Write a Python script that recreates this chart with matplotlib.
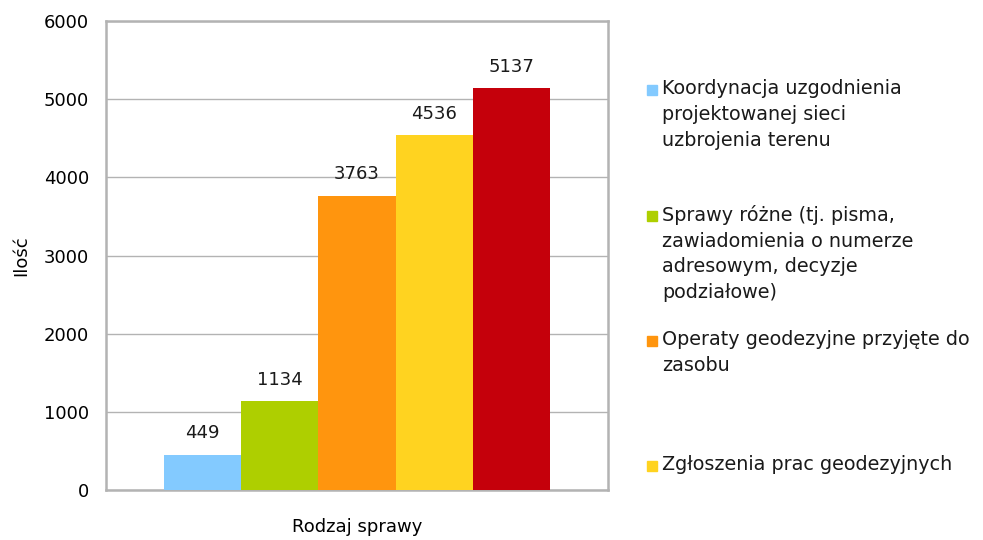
import matplotlib
matplotlib.use("Agg")
import matplotlib.pyplot as plt
from matplotlib.patches import Rectangle

plt.rcParams['font.family'] = ['DejaVu Sans']

categories = [
    "Koordynacja uzgodnienia\nprojektowanej sieci\nuzbrojenia terenu",
    "Sprawy różne (tj. pisma,\nzawiadomienia o numerze\nadresowym, decyzje\npodziałowe)",
    "Operaty geodezyjne przyjęte do\nzasobu",
    "Zgłoszenia prac geodezyjnych",
]
values = [449, 1134, 3763, 4536, 5137]
colors = ["#83caff", "#aecf00", "#ff950e", "#ffd320", "#c5000b"]
yticks = [0, 1000, 2000, 3000, 4000, 5000, 6000]

fig = plt.figure(figsize=(9.83, 5.40), dpi=100)
ax = fig.add_axes([0.1078, 0.0926, 0.5107, 0.8685])

x = list(range(len(values)))
bars = ax.bar(x, values, width=1.0, color=colors, zorder=3)
for xi, v in zip(x, values):
    ax.annotate(str(v), (xi, v), xytext=(0, 9), textcoords='offset points',
                ha='center', va='bottom', fontsize=13, color='#1a1a1a')

ax.set_xlim(-0.5 - 0.753, 4.5 + 0.753)
ax.set_ylim(0, 6000)
ax.set_yticks(yticks)
ax.set_yticklabels([str(t) for t in yticks], fontsize=13)
ax.set_xticks([])
ax.tick_params(axis='y', length=0, pad=12)
ax.yaxis.grid(True, color='#b3b3b3', linewidth=1.0, zorder=0)
for s in ax.spines.values():
    s.set_color('#b3b3b3')
    s.set_linewidth(1.8)
ax.set_ylabel("Ilość", fontsize=13, labelpad=10)
ax.set_xlabel("Rodzaj sprawy", fontsize=13, labelpad=20)

# legend (manual, last entry falls outside the figure)
leg_y = [90, 216, 341, 466]
for lab, col, yy in zip(categories, colors, leg_y):
    yf = 1 - yy / 540
    fig.add_artist(Rectangle((647 / 983, yf - 5 / 540), 10 / 983, 10 / 540,
                             transform=fig.transFigure, color=col))
    fig.text(662 / 983, yf + 11 / 540, lab, fontsize=13.8, ha='left', va='top',
             linespacing=1.45, color='#1a1a1a')

fig.savefig("out.png", dpi=100)
